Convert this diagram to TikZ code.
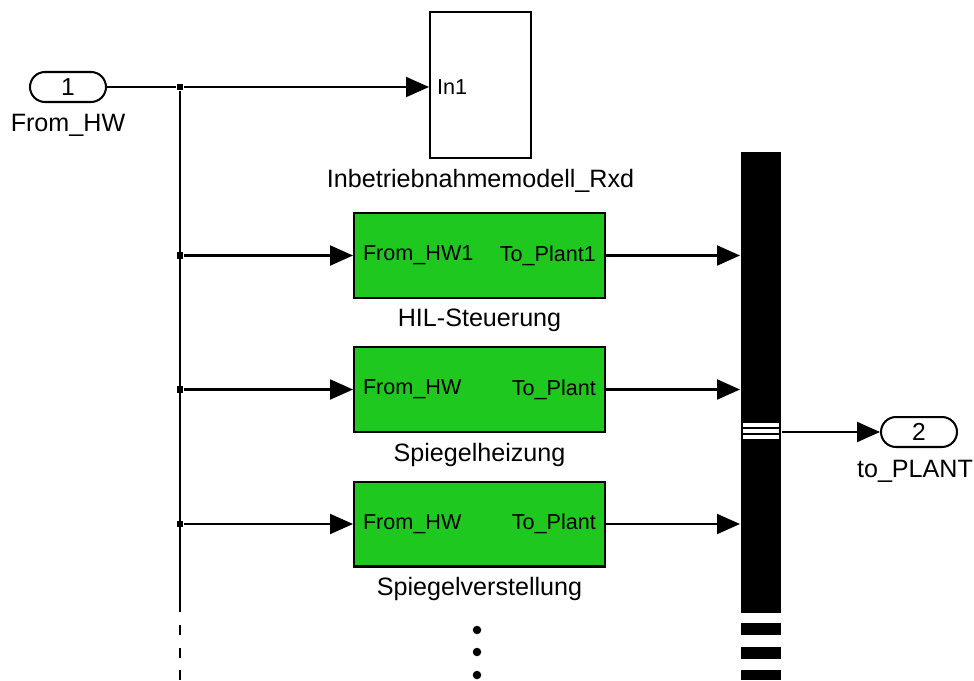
\documentclass[tikz,border=0pt]{standalone}
\usepackage{fontspec}
\setmainfont{Liberation Sans}
\usetikzlibrary{positioning,arrows.meta}
\definecolor{blockgreen}{RGB}{30,200,30}

\begin{document}
\begin{tikzpicture}[x=0.02cm, y=-0.02cm, line width=1.15pt,
    sig/.style={-{Triangle[length=0.46cm, width=0.4cm]}},
    port/.style={rectangle, draw, rounded corners=0.3cm, minimum width=1.52cm, minimum height=0.6cm, inner sep=0pt, font=\fontsize{14}{16}\selectfont},
    subsys/.style={rectangle, draw, fill=blockgreen, minimum width=5.02cm, minimum height=1.7cm},
    blockname/.style={inner sep=0pt, font=\fontsize{14.3}{17}\selectfont},
    portname/.style={inner sep=0pt, font=\fontsize{12.3}{14}\selectfont},
    junction/.style={rectangle, fill, minimum size=0.13cm, inner sep=0pt},
    busbar/.style={rectangle, fill=black, minimum width=0.8cm, minimum height=9.22cm, inner sep=0pt}]
    \useasboundingbox (0,0) rectangle (974,680);

    % ports
    \node [port] (in1) at (68,87) {1};
    \node [blockname, below=0.2cm of in1] (in1-name) {From\_HW};
    \node [port] (out2) at (919,432) {2};
    \node [blockname, below=0.22cm of out2, xshift=-0.08cm] (out2-name) {to\_PLANT};

    % blocks
    \node [rectangle, draw, minimum width=2.02cm, minimum height=2.92cm] (rxd) at (480.5,85) {};
    \node [blockname, below=0.18cm of rxd] (rxd-name) {Inbetriebnahmemodell\_Rxd};
    \node [subsys] (hil) at (479.5,255.5) {};
    \node [blockname, below=0.18cm of hil] (hil-name) {HIL-Steuerung};
    \node [subsys] (heat) at (479.5,389.5) {};
    \node [blockname, below=0.18cm of heat] (heat-name) {Spiegelheizung};
    \node [subsys] (adj) at (479.5,524) {};
    \node [blockname, below=0.18cm of adj] (adj-name) {Spiegelverstellung};

    % port texts inside the blocks
    \node [portname, anchor=west, xshift=0.14cm] (rxd-in) at (rxd.west |- in1) {In1};
    \node [portname, anchor=west, xshift=0.18cm] (hil-in) at (hil.west) {From\_HW1};
    \node [portname, anchor=east, xshift=-0.18cm] (hil-out) at (hil.east) {To\_Plant1};
    \node [portname, anchor=west, xshift=0.18cm] (heat-in) at (heat.west) {From\_HW};
    \node [portname, anchor=east, xshift=-0.18cm] (heat-out) at (heat.east) {To\_Plant};
    \node [portname, anchor=west, xshift=0.18cm] (adj-in) at (adj.west) {From\_HW};
    \node [portname, anchor=east, xshift=-0.18cm] (adj-out) at (adj.east) {To\_Plant};

    % bus
    \node [busbar] (bus) at (761,382.5) {};
    \foreach \y in {425,431,437}
        \draw [white, line width=2.4pt] (743,\y) -- (779,\y);
    \fill (741,623) rectangle (781,635);
    \fill (741,647) rectangle (781,659);
    \fill (741,670) rectangle (781,680);

    % branch points
    \node [junction] (j0) at (180,87) {};
    \node [junction] (j1) at (180,255.5) {};
    \node [junction] (j2) at (180,389.5) {};
    \node [junction] (j3) at (180,524) {};
    \coordinate (trunk-end) at (180,612);

    \draw (in1) -- (j0);
    \draw [sig] (j0) -- (j0 -| rxd.west);
    \draw (j0) -- (trunk-end);
    \draw (180,625) -- (180,635);
    \draw (180,648) -- (180,658);
    \draw (180,670) -- (180,680);
    \draw [sig] (j1) -- (hil.west);
    \draw [sig] (j2) -- (heat.west);
    \draw [sig] (j3) -- (adj.west);
    \draw [sig] (hil.east) -- (hil.east -| bus.west);
    \draw [sig] (heat.east) -- (heat.east -| bus.west);
    \draw [sig] (adj.east) -- (adj.east -| bus.west);
    \draw [sig] (bus.east |- out2) -- (out2.west);

    % more blocks follow
    \fill (477,630) circle (0.085cm);
    \fill (477,652) circle (0.085cm);
    \fill (477,675) circle (0.085cm);
\end{tikzpicture}
\end{document}
